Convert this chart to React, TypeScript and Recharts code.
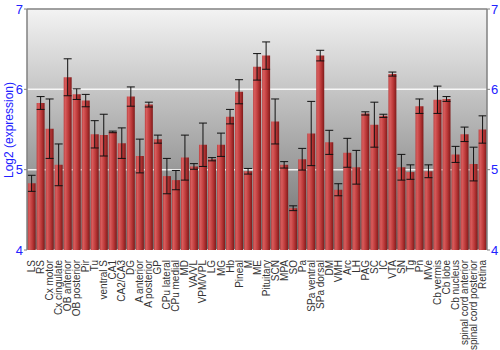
import React from "react";
import { ComposedChart, Bar, Line, XAxis, YAxis, CartesianGrid, ErrorBar, ReferenceLine } from "recharts";

const categories = [
  "LS", "RS", "Cx motor", "Cx cingulate", "OB anterior", "OB posterior", "Pir", "Tu",
  "ventral S", "CA1", "CA2/CA3", "DG", "A anterior", "A posterior", "GP", "CPu lateral",
  "CPu medial", "MD", "VA/VL", "VPM/VPL", "LG", "MG", "Hb", "Pineal", "M", "ME",
  "Pituitary", "SCN", "MPA", "SO", "Pa", "SPa ventral", "SPa dorsal", "DM", "VMH", "Arc",
  "LH", "PAG", "SC", "IC", "VTA", "SN", "Tg", "Pn", "MVe", "Cb vermis", "Cb lobe",
  "Cb nucleus", "spinal cord anterior", "spinal cord posterior", "Retina",
];

const means = [
  4.83, 5.83, 5.51, 5.06, 6.15, 5.94, 5.86, 5.44,
  5.43, 5.47, 5.33, 5.91, 5.17, 5.81, 5.38, 4.92,
  4.87, 5.15, 5.04, 5.31, 5.13, 5.31, 5.66, 5.97, 4.98, 6.28,
  6.42, 5.6, 5.06, 4.52, 5.13, 5.45, 6.42, 5.34, 4.75, 5.21,
  5.03, 5.7, 5.56, 5.67, 6.19, 5.03, 4.97, 5.79, 4.98, 5.87, 5.88,
  5.19, 5.44, 5.07, 5.5,
];

const errors = [
  0.1, 0.08, 0.37, 0.26, 0.23, 0.066, 0.077, 0.17,
  0.26, 0.01, 0.19, 0.12, 0.21, 0.03, 0.05, 0.22,
  0.12, 0.28, 0.035, 0.27, 0.02, 0.145, 0.09, 0.15, 0.035, 0.165,
  0.17, 0.28, 0.04, 0.03, 0.135, 0.4, 0.066, 0.15, 0.075, 0.18,
  0.21, 0.02, 0.28, 0.02, 0.025, 0.16, 0.09, 0.09, 0.08, 0.17, 0.03,
  0.1, 0.09, 0.21, 0.17,
];

const yTicks = [4, 5, 6, 7];

const data = categories.map((name, i) => ({ name, value: means[i], err: errors[i] }));

const FONT = "'Liberation Sans', Arial, sans-serif";
const BLUE = "#2222ff";

const XTick = (props: any) => {
  const { x, y, payload } = props;
  return (
    <text
      x={x}
      y={y}
      transform={`rotate(-90 ${x} ${y})`}
      textAnchor="end"
      dx={-2}
      dy="0.36em"
      fontSize={10}
      fill="#333"
      fontFamily={FONT}
    >
      {payload.value}
    </text>
  );
};

const LeftTick = (props: any) => {
  const { x, y, payload } = props;
  return (
    <text x={x} y={y} textAnchor="end" dy="0.36em" fontSize={13} fill={BLUE} fontFamily={FONT}>
      {payload.value}
    </text>
  );
};

const RightTick = (props: any) => {
  const { x, y, payload } = props;
  return (
    <text x={x} y={y} textAnchor="start" dy="0.36em" fontSize={13} fill={BLUE} fontFamily={FONT}>
      {payload.value}
    </text>
  );
};

const YLabel = () => (
  <text
    x={13}
    y={130}
    transform="rotate(-90 13 130)"
    textAnchor="middle"
    fontSize={12}
    fill={BLUE}
    fontFamily={FONT}
  >
    Log2 (expression)
  </text>
);

export default function App() {
  return (
    <div style={{ position: "absolute", left: 0, top: 0, width: 500, height: 350, background: "#fff" }}>
      <ComposedChart
        width={500}
        height={350}
        data={data}
        margin={{ top: 9, right: 0, left: 0, bottom: 0 }}
        barCategoryGap={0.6}
      >
        <defs>
          <linearGradient id="bgGrad" x1="0" y1="0" x2="0" y2="1">
            <stop offset="0%" stopColor="#f3f3f3" />
            <stop offset="100%" stopColor="#6c6c6c" />
          </linearGradient>
          <linearGradient id="barGrad" x1="0" y1="0" x2="1" y2="0">
            <stop offset="0%" stopColor="#bc4040" />
            <stop offset="20%" stopColor="#d85c5c" />
            <stop offset="60%" stopColor="#bb3838" />
            <stop offset="100%" stopColor="#801a1a" />
          </linearGradient>
        </defs>
        <CartesianGrid
          vertical={false}
          yAxisId="left"
          fill="url(#bgGrad)"
          stroke="#ffffff"
          strokeOpacity={0.85}
          strokeWidth={1.5}
        />
        <XAxis
          dataKey="name"
          interval={0}
          height={100}
          tick={<XTick />}
          tickLine={false}
          axisLine={false}
        />
        <YAxis
          yAxisId="left"
          orientation="left"
          domain={[4, 7]}
          ticks={yTicks}
          width={27}
          tickSize={3}
          tickMargin={1}
          axisLine={{ stroke: "#808080", strokeWidth: 1.5 }}
          tickLine={{ stroke: "#808080" }}
          tick={<LeftTick />}
          label={{ content: () => <YLabel /> }}
        />
        <YAxis
          yAxisId="right"
          orientation="right"
          domain={[4, 7]}
          ticks={yTicks}
          width={13}
          tickSize={3}
          tickMargin={1}
          axisLine={{ stroke: "#808080", strokeWidth: 1.5 }}
          tickLine={{ stroke: "#808080" }}
          tick={<RightTick />}
        />
        <ReferenceLine yAxisId="left" y={7} stroke="#808080" strokeWidth={1.5} />
        <Bar yAxisId="left" dataKey="value" fill="url(#barGrad)" isAnimationActive={false}>
          <ErrorBar dataKey="err" width={4} stroke="#111" strokeWidth={1} />
        </Bar>
        <Line
          yAxisId="right"
          dataKey="value"
          stroke="none"
          strokeOpacity={0}
          dot={false}
          activeDot={false}
          legendType="none"
          isAnimationActive={false}
        />
      </ComposedChart>
    </div>
  );
}
